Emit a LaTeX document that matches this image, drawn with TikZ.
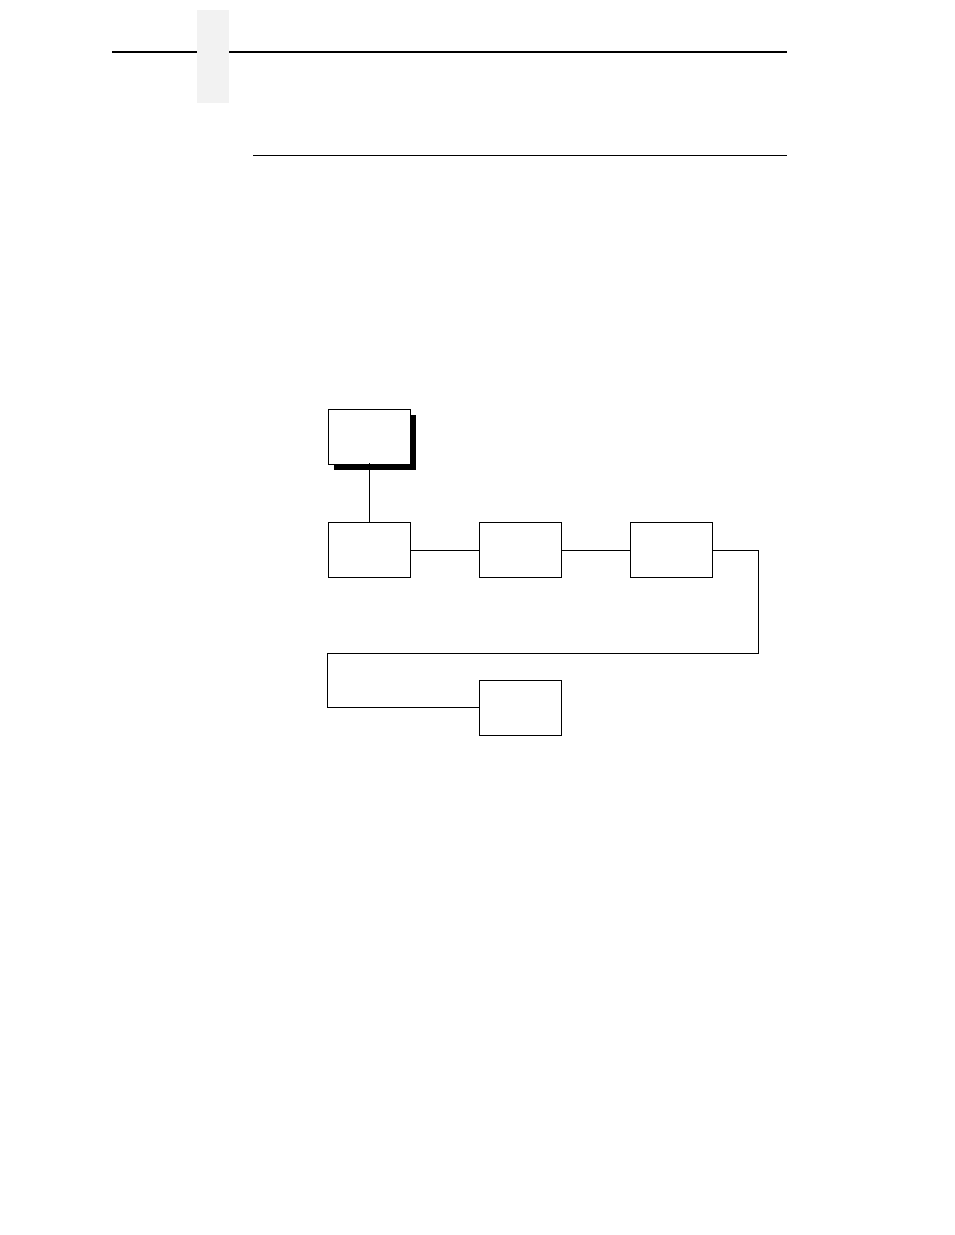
\documentclass[tikz,border=0pt]{standalone}
\usetikzlibrary{shadows}
\begin{document}
\begin{tikzpicture}[x=1pt,y=-1pt]
		  \tikzstyle{every node}=[font=\scriptsize]
		  \tikzstyle{menubox}=[draw,line width=0.9pt,fill=white,inner sep=0pt,minimum width=82pt,minimum height=55pt]
		  \tikzstyle{link}=[line width=0.9pt]
		  \useasboundingbox (0,0) rectangle (954,1235);
		  % page header
		  \draw[line width=2.2pt](112,52)--(787,52);
		  \fill[gray!10](197,10) rectangle (229,103);
		  \draw[line width=1pt](253,155.5)--(787,155.5);
		  % menu boxes
		  \node[menubox,drop shadow={shadow xshift=6pt,shadow yshift=-6pt,fill=black,opacity=1}] (top) at (369,436.5) {};
		  \node[menubox] (m1) at (369,550) {};
		  \node[menubox] (m2) at (520,550) {};
		  \node[menubox] (m3) at (671,550) {};
		  \node[menubox] (m4) at (520,707.5) {};
		  \coordinate (turnA) at (758,550);
		  \coordinate (turnB) at (758,653);
		  \coordinate (turnC) at (327,653);
		  \draw[link](369,463)--(m1.north);
		  \draw[link](m1)--(m2);
		  \draw[link](m2)--(m3);
		  \draw[link](m3)--(turnA)--(turnB)--(turnC)--(turnC |- m4)--(m4);
		\end{tikzpicture}
\end{document}
